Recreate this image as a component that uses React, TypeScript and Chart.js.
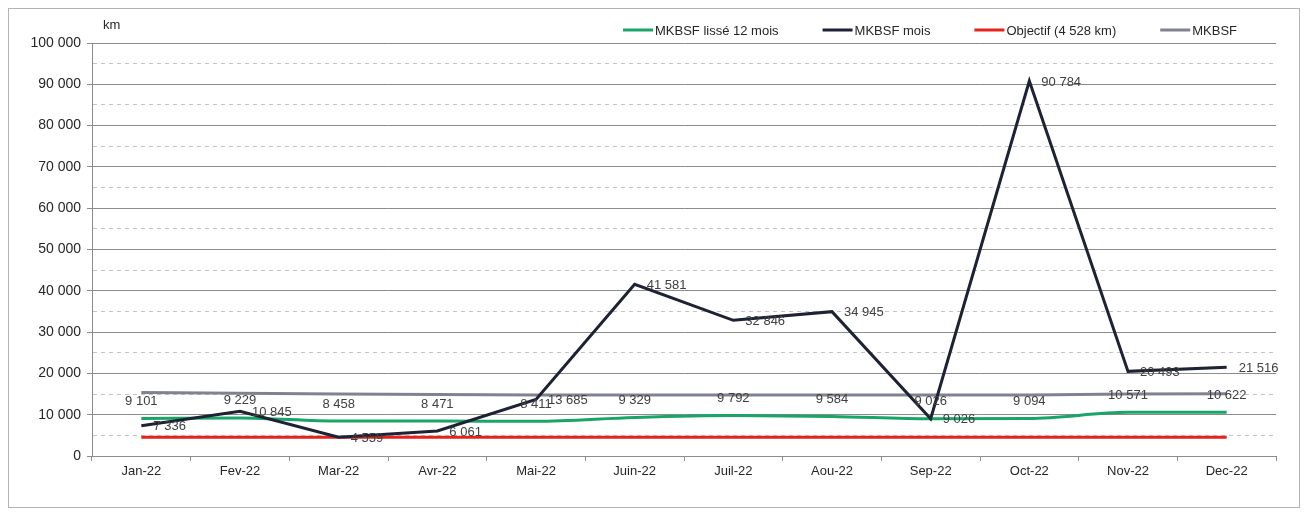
import React, { useEffect, useRef } from 'react';
import { Chart, registerables } from 'chart.js';

Chart.register(...registerables);

const categories = ['Jan-22', 'Fev-22', 'Mar-22', 'Avr-22', 'Mai-22', 'Juin-22', 'Juil-22', 'Aou-22', 'Sep-22', 'Oct-22', 'Nov-22', 'Dec-22'];
const mkbsfLisse = [9101, 9229, 8458, 8471, 8411, 9329, 9792, 9584, 9026, 9094, 10571, 10622];
const mkbsfMois = [7336, 10845, 4559, 6061, 13685, 41581, 32846, 34945, 9026, 90784, 20493, 21516];
const objectif = [4528, 4528, 4528, 4528, 4528, 4528, 4528, 4528, 4528, 4528, 4528, 4528];
const mkbsf = [15400, 15200, 15000, 14900, 14800, 14800, 14800, 14800, 14800, 14800, 15000, 15100];
const seriesLabels = ['MKBSF lissé 12 mois', 'MKBSF mois', 'Objectif (4 528 km)', 'MKBSF'];
const seriesColors = ['#19a566', '#1d2234', '#e5221c', '#80838f'];
const yUnit = 'km';
const yMin = 0;
const yMax = 100000;
const yStep = 5000;
const yLabelStep = 10000;

const FONT = '"Liberation Sans", Arial, sans-serif';

const fmt = (v: number) => String(Math.round(v)).replace(/\B(?=(\d{3})+(?!\d))/g, ' ');

const labelPlugin = {
  id: 'valueLabels',
  afterDatasetsDraw(chart: any) {
    const ctx = chart.ctx;
    chart.data.datasets.forEach((ds: any, i: number) => {
      const pos = ds.labelPos;
      if (!pos) return;
      const meta = chart.getDatasetMeta(i);
      ctx.save();
      ctx.font = '13px ' + FONT;
      ctx.fillStyle = '#404040';
      ctx.textBaseline = 'middle';
      meta.data.forEach((pt: any, j: number) => {
        const v = ds.data[j];
        const { x, y } = pt.getProps(['x', 'y'], true);
        if (pos === 'right') {
          ctx.textAlign = 'left';
          ctx.fillText(fmt(v), x + 12, y + 1);
        } else {
          ctx.textAlign = 'center';
          ctx.fillText(fmt(v), x, y - 17);
        }
      });
      ctx.restore();
    });
  },
};

const legendPlugin = {
  id: 'customLegend',
  afterDraw(chart: any) {
    const ctx = chart.ctx;
    const area = chart.chartArea;
    ctx.save();
    ctx.font = '13px ' + FONT;
    ctx.textBaseline = 'middle';
    ctx.textAlign = 'left';
    const sw = 30, gapText = 2, gapItem = 44;
    const items = chart.data.datasets.map((ds: any) => ({ label: ds.label, color: ds.borderColor, w: ctx.measureText(ds.label).width }));
    const total = items.reduce((s: number, it: any) => s + sw + gapText + it.w, 0) + gapItem * (items.length - 1);
    let x = area.right - 39 - total;
    const y = 21;
    items.forEach((it: any) => {
      ctx.strokeStyle = it.color;
      ctx.lineWidth = 3;
      ctx.beginPath();
      ctx.moveTo(x, y);
      ctx.lineTo(x + sw, y);
      ctx.stroke();
      ctx.fillStyle = '#262626';
      ctx.fillText(it.label, x + sw + gapText, y + 1);
      x += sw + gapText + it.w + gapItem;
    });
    // unit label
    ctx.fillText(yUnit, area.left + 11, area.top - 18);
    ctx.restore();
  },
};

export default function App() {
  const ref = useRef<HTMLCanvasElement>(null);
  useEffect(() => {
    const chart = new Chart(ref.current!, {
      type: 'line',
      data: {
        labels: categories,
        datasets: [
          {
            label: seriesLabels[0],
            data: mkbsfLisse,
            borderColor: seriesColors[0],
            backgroundColor: seriesColors[0],
            borderWidth: 3,
            pointRadius: 0,
            cubicInterpolationMode: 'monotone',
            order: 1,
            labelPos: 'above',
          } as any,
          {
            label: seriesLabels[1],
            data: mkbsfMois,
            borderColor: seriesColors[1],
            backgroundColor: seriesColors[1],
            borderWidth: 3,
            pointRadius: 0,
            tension: 0,
            order: 0,
            labelPos: 'right',
          } as any,
          {
            label: seriesLabels[2],
            data: objectif,
            borderColor: seriesColors[2],
            backgroundColor: seriesColors[2],
            borderWidth: 3,
            pointRadius: 0,
            order: 2,
          },
          {
            label: seriesLabels[3],
            data: mkbsf,
            borderColor: seriesColors[3],
            backgroundColor: seriesColors[3],
            borderWidth: 3,
            pointRadius: 0,
            order: 3,
          },
        ],
      },
      options: {
        responsive: false,
        animation: false,
        layout: { padding: { top: 34, right: 23, left: 0, bottom: 0 } },
        plugins: {
          legend: { display: false },
          tooltip: { enabled: false },
        },
        scales: {
          x: {
            offset: true,
            grid: {
              offset: true,
              drawOnChartArea: false,
              drawTicks: true,
              tickLength: 5,
              tickColor: '#8c8c8c',
            },
            border: { color: '#8c8c8c', width: 1 },
            ticks: {
              color: '#262626',
              font: { family: FONT, size: 13 },
              padding: 3,
              maxRotation: 0,
              autoSkip: false,
            },
            afterFit(scale: any) {
              scale.height = 51;
            },
          },
          y: {
            min: yMin,
            max: yMax,
            grid: {
              color: (c: any) => (c.tick && c.tick.value % yLabelStep === 0 ? '#8c8c8c' : '#c4c4c4'),
              tickColor: (c: any) => (c.tick && c.tick.value % yLabelStep === 0 ? '#8c8c8c' : 'rgba(0,0,0,0)'),
              tickLength: 5,
              lineWidth: 1,
            },
            border: {
              color: '#8c8c8c',
              width: 1,
              dash: (c: any) => (c.tick && c.tick.value % yLabelStep !== 0 ? [4, 4] : []),
            } as any,
            ticks: {
              stepSize: yStep,
              autoSkip: false,
              color: '#262626',
              font: { family: FONT, size: 14 },
              padding: 6,
              callback: (v: any) => (Number(v) % yLabelStep === 0 ? fmt(Number(v)) : ''),
            },
            afterFit(scale: any) {
              scale.width = 83;
            },
          },
        },
      },
      plugins: [labelPlugin, legendPlugin],
    });
    return () => chart.destroy();
  }, []);
  return (
    <div style={{ width: 1290, height: 498, border: '1px solid #b4b4b4', background: '#fff' }}>
      <canvas ref={ref} width={1290} height={498} style={{ display: 'block' }} />
    </div>
  );
}
